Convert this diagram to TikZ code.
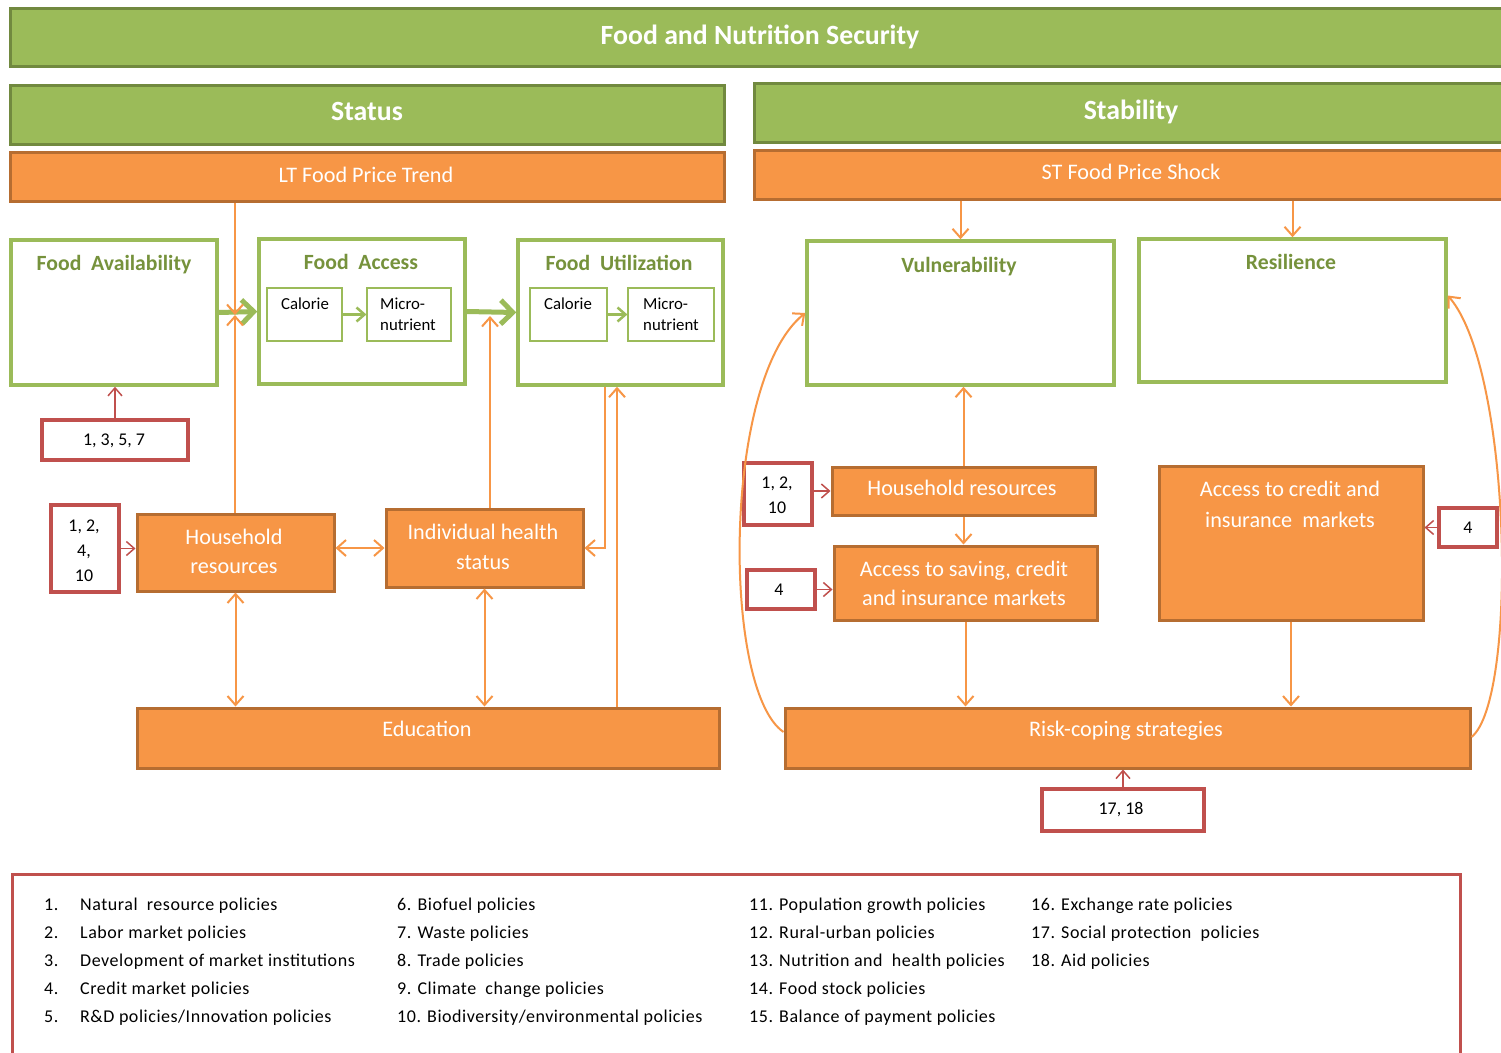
\documentclass[tikz,border=0pt]{standalone}
\usepackage{fontspec}
\setmainfont{Carlito}
\usetikzlibrary{arrows.meta,calc}
\definecolor{gfill}{HTML}{9BBB59}
\definecolor{gdark}{HTML}{71893F}
\definecolor{gtext}{HTML}{76923C}
\definecolor{ofill}{HTML}{F79646}
\definecolor{odark}{HTML}{B66D31}
\definecolor{redb}{HTML}{C0504D}
\begin{document}
\begin{tikzpicture}[x=1pt,y=-1pt,
  banner/.style={draw=gdark, fill=gfill, line width=3pt, inner sep=0pt},
  obox/.style={draw=odark, fill=ofill, line width=3pt, inner sep=0pt},
  gbox/.style={draw=gfill, fill=white, line width=3.5pt, inner sep=0pt},
  ibox/.style={draw=gfill, fill=white, line width=1.2pt, inner sep=0pt},
  pbox/.style={draw=redb, fill=white, line width=3.5pt, inner sep=0pt},
  lbox/.style={draw=redb, fill=white, line width=3pt, inner sep=0pt},
  tbig/.style={font=\fontsize{27.8}{32}\selectfont\bfseries, text=white, inner sep=0pt, text height=18pt, text depth=0pt},
  tmid/.style={font=\fontsize{22.2}{26}\selectfont, text=white, inner sep=0pt, text height=14.3pt, text depth=0pt},
  ttitle/.style={font=\fontsize{21.7}{25}\selectfont\bfseries, text=gtext, inner sep=0pt, text height=14pt, text depth=0pt},
  tsmall/.style={font=\fontsize{16.8}{20}\selectfont, text=black, inner sep=0pt, text height=10.8pt, text depth=0pt},
  tpol/.style={font=\fontsize{17.9}{21}\selectfont, text=black, inner sep=0pt, text height=11.5pt, text depth=0pt},
  tleg/.style={font=\fontsize{18}{21}\selectfont\addfontfeatures{LetterSpace=3}, text=black, inner sep=0pt, text height=11.6pt, text depth=0pt, anchor=west},
  oline/.style={draw=ofill, line width=2pt},
  oarr/.style={oline, -{Straight Barb[length=9pt,width=16pt]}},
  odarr/.style={oline, {Straight Barb[length=9pt,width=16pt]}-{Straight Barb[length=9pt,width=16pt]}},
  garr/.style={draw=gfill, line width=5pt, -{Straight Barb[length=12pt,width=24pt]}},
  gsarr/.style={draw=gfill, line width=2.5pt, -{Straight Barb[length=8pt,width=14pt]}},
  rarr/.style={draw=redb, line width=1.5pt, -{Straight Barb[length=8pt,width=14pt]}}
]
\useasboundingbox (0,0) rectangle (1501,1052);
\clip (0,0) rectangle (1501,1052);
\fill[white] (0,0) rectangle (1501,1052);

% top banners
\node[banner, minimum width=1500pt, minimum height=58pt] (fns) at (760,37) {};
\node[tbig] (tfns) at (760,35) {Food and Nutrition Security};
\node[banner, minimum width=714pt, minimum height=59pt] (status) at (367,114.5) {};
\node[tbig] (tstatus) at (367,111) {Status};
\node[banner, minimum width=754pt, minimum height=59pt] (stab) at (1131,112.5) {};
\node[tbig] (tstab) at (1131,110) {Stability};
\node[obox, minimum width=714pt, minimum height=49pt] (lt) at (367,176.5) {};
\node[tmid] (tlt) at (366,175) {LT Food Price Trend};
\node[obox, minimum width=754pt, minimum height=49pt] (st) at (1131,174.5) {};
\node[tmid] (tst) at (1131,172) {ST Food Price Shock};

% left: food boxes
\node[gbox, minimum width=206pt, minimum height=145pt] (favail) at (114,312.5) {};
\node[ttitle] (tfavail) at (114,263) {Food\ \ Availability};
\node[gbox, minimum width=206pt, minimum height=145pt] (faccess) at (362,311.5) {};
\node[ttitle] (tfaccess) at (361,262) {Food\ \ Access};
\node[ibox, minimum width=75pt, minimum height=53pt] (cal1) at (304.5,314.5) {};
\node[tsmall] (tcal1) at (305,304) {Calorie};
\node[ibox, minimum width=84pt, minimum height=53pt] (mic1) at (409,314.5) {};
\node[tsmall, anchor=west] (tmic1a) at (380,304) {Micro-};
\node[tsmall, anchor=west] (tmic1b) at (380,325) {nutrient};
\node[gbox, minimum width=205pt, minimum height=145pt] (futil) at (620.5,312.5) {};
\node[ttitle] (tfutil) at (619,263) {Food\ \ Utilization};
\node[ibox, minimum width=77pt, minimum height=53pt] (cal2) at (568.5,314.5) {};
\node[tsmall] (tcal2) at (568,304) {Calorie};
\node[ibox, minimum width=86pt, minimum height=53pt] (mic2) at (671,314.5) {};
\node[tsmall, anchor=west] (tmic2a) at (643,304) {Micro-};
\node[tsmall, anchor=west] (tmic2b) at (643,325) {nutrient};

% left: lower boxes
\node[pbox, minimum width=146pt, minimum height=40pt] (p1357) at (115,440) {};
\node[tpol] (tp1357) at (114,440) {1, 3, 5, 7};
\node[pbox, minimum width=68pt, minimum height=87pt] (p12410) at (85,548.5) {};
\node[tpol] (tp12410a) at (84,526) {1, 2,};
\node[tpol] (tp12410b) at (84,551) {4,};
\node[tpol] (tp12410c) at (84,576) {10};
\node[obox, minimum width=197pt, minimum height=77pt] (hr1) at (235.5,552.5) {};
\node[tmid] (thr1a) at (234,537) {Household};
\node[tmid] (thr1b) at (234,566) {resources};
\node[obox, minimum width=197pt, minimum height=78pt] (ihs) at (484.5,548) {};
\node[tmid] (tihsa) at (483,532) {Individual health};
\node[tmid] (tihsb) at (483,562) {status};
\node[obox, minimum width=582pt, minimum height=60pt] (edu) at (428,738) {};
\node[tmid] (tedu) at (427,729) {Education};

% right boxes
\node[gbox, minimum width=307pt, minimum height=144pt] (vul) at (960.5,313) {};
\node[ttitle] (tvul) at (959,265) {Vulnerability};
\node[gbox, minimum width=307pt, minimum height=143pt] (res) at (1292.5,310.5) {};
\node[ttitle] (tres) at (1291,262) {Resilience};
\node[obox, minimum width=263pt, minimum height=48pt] (hr2) at (963.5,491) {};
\node[tmid] (thr2) at (962,488) {Household resources};
\node[obox, minimum width=263pt, minimum height=74pt] (acs) at (965.5,583) {};
\node[tmid] (tacsa) at (964,569) {Access to saving, credit};
\node[tmid] (tacsb) at (964,598) {and insurance markets};
\node[pbox, minimum width=68pt, minimum height=62pt] (p1210) at (778,494) {};
\node[tpol] (tp1210a) at (777,483) {1, 2,};
\node[tpol] (tp1210b) at (777,508) {10};
\node[pbox, minimum width=68pt, minimum height=39pt] (p4a) at (781,589.5) {};
\node[tpol] (tp4a) at (779,590) {4};
\node[obox, minimum width=264pt, minimum height=154pt] (acc) at (1291,543) {};
\node[tmid] (tacca) at (1290,489) {Access to credit and};
\node[tmid] (taccb) at (1290,520) {insurance\ \ markets};
\node[pbox, minimum width=58pt, minimum height=39pt] (p4b) at (1468,527.5) {};
\node[tpol] (tp4b) at (1468,528) {4};
\node[obox, minimum width=685pt, minimum height=60pt] (rcs) at (1127.5,738) {};
\node[tmid] (trcs) at (1126,729) {Risk-coping strategies};
\node[pbox, minimum width=162pt, minimum height=42pt] (p1718) at (1123,810) {};
\node[tpol] (tp1718) at (1121,809) {17, 18};

% coordinates for connector ends
\coordinate (x1) at (235,315);
\coordinate (x2) at (490,316);
\coordinate (x3) at (605,0);
\coordinate (x4) at (617,0);

% green arrows
\draw[garr] (favail.east) -- (faccess.west);
\draw[garr] (faccess.east) -- (futil.west);
\draw[gsarr] (cal1.east) -- (mic1.west);
\draw[gsarr] (cal2.east) -- (mic2.west);

% orange connectors left
\draw[oarr] (lt.south -| x1) -- (x1);
\draw[oarr] (hr1.north -| x1) -- (x1);
\draw[oarr] (ihs.north -| x2) -- (x2);
\draw[oarr] (futil.south -| x3) |- (ihs.east);
\draw[oarr] (edu.north -| x4) -- (futil.south -| x4);
\draw[odarr] (hr1.east |- ihs.west) -- (ihs.west);
\draw[odarr] (hr1.south) -- (edu.north -| hr1.south);
\draw[odarr] (ihs.south) -- (edu.north -| ihs.south);

% red policy arrows
\draw[rarr] (p1357.north) -- (favail.south -| p1357.north);
\draw[rarr] (p12410.east) -- (hr1.west |- p12410.east);
\draw[rarr] (p1210.east |- hr2.west) -- (hr2.west);
\draw[rarr] (p4a.east) -- (acs.west |- p4a.east);
\draw[rarr] (p4b.west) -- (acc.east |- p4b.west);
\draw[rarr] (p1718.north) -- (rcs.south -| p1718.north);

% orange connectors right
\draw[oarr] (vul.north |- st.south) -- (vul.north);
\draw[oarr] (res.north |- st.south) -- (res.north);
\draw[oarr] (hr2.north) -- (vul.south -| hr2.north);
\draw[oarr] (hr2.south) -- (acs.north -| hr2.south);
\draw[oarr] (acs.south) -- (rcs.north -| acs.south);
\draw[oarr] (acc.south) -- (rcs.north -| acc.south);
\draw[oarr] ([yshift=6pt]rcs.west) .. controls (722,690) and (722,380) .. (vul.west);
\draw[oarr] ([yshift=1pt]rcs.east) .. controls (1518,700) and (1512,370) .. ([yshift=15pt]res.east);

% legend
\node[lbox, minimum width=1448pt, minimum height=220pt] (legend) at (736,984) {};
\foreach \t [count=\i] in {Natural\ \ resource policies, Labor market policies, Development of market institutions, Credit market policies, R\&D policies/Innovation policies} {
  \node[tleg] (ln\i) at (44,{905+28*(\i-1)}) {\i.};
  \node[tleg] (la\i) at (80,{905+28*(\i-1)}) {\t};
}
\foreach \t [count=\i] in {6. Biofuel policies, 7. Waste policies, 8. Trade policies, 9. Climate\ \ change policies, 10. Biodiversity/environmental policies} {
  \node[tleg] (lb\i) at (397,{905+28*(\i-1)}) {\t};
}
\foreach \t [count=\i] in {11. Population growth policies, 12. Rural-urban policies, 13. Nutrition and\ \ health policies, 14. Food stock policies, 15. Balance of payment policies} {
  \node[tleg] (lc\i) at (749,{905+28*(\i-1)}) {\t};
}
\foreach \t [count=\i] in {16. Exchange rate policies, 17. Social protection\ \ policies, 18. Aid policies} {
  \node[tleg] (ld\i) at (1031,{905+28*(\i-1)}) {\t};
}
\end{tikzpicture}
\end{document}
